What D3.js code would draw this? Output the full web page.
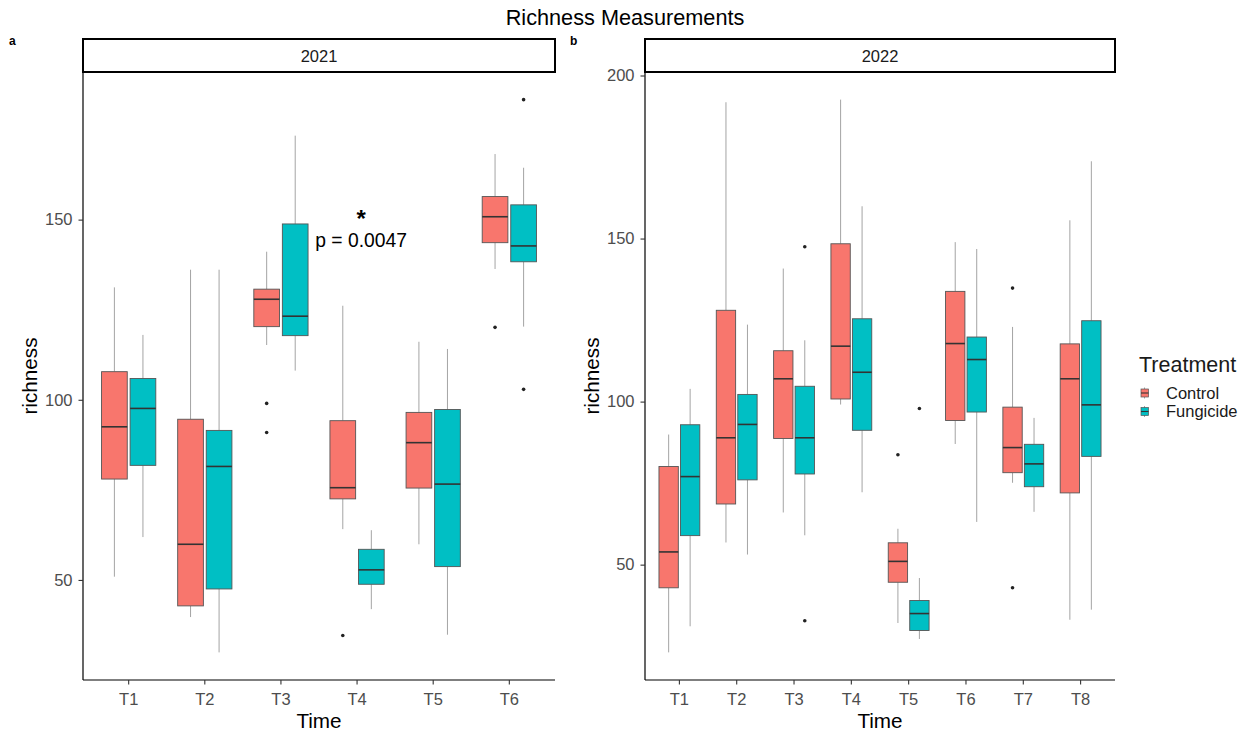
<!DOCTYPE html>
<html>
<head>
<meta charset="utf-8">
<script src="https://cdn.jsdelivr.net/npm/d3@7"></script>
<style>
  body { margin: 0; background: #fff; }
  text { font-family: "Liberation Sans", Arial, sans-serif; }
</style>
</head>
<body>
<svg id="chart" width="1249" height="736"></svg>
<script>
const treatments = ['Control', 'Fungicide']
const colors = ['#F8766D', '#00BFC4']

// 2021 -- [lower whisker, Q1, median, Q3, upper whisker]
const times2021 = ['T1', 'T2', 'T3', 'T4', 'T5', 'T6']
const control2021 = [
  [50.9, 78.0, 92.5, 107.8, 131.2],
  [39.7, 42.8, 59.9, 94.6, 136.1],
  [115.2, 120.3, 127.9, 130.7, 141.1],
  [64.1, 72.5, 75.6, 94.2, 126.1],
  [59.9, 75.5, 88.1, 96.5, 116.1],
  [136.3, 143.6, 150.8, 156.4, 168.2]
]
const fungicide2021 = [
  [61.9, 81.8, 97.6, 105.9, 118.0],
  [29.9, 47.5, 81.5, 91.5, 136.1],
  [108.1, 117.8, 123.2, 148.8, 173.3],
  [41.9, 48.8, 52.8, 58.5, 63.8],
  [34.8, 53.7, 76.6, 97.3, 114.1],
  [120.3, 138.3, 142.7, 154.1, 164.4]
]
// outliers: [time, treatment index, value]
const outliers2021 = [
  ['T3', 0, 99.0], ['T3', 0, 90.9], ['T4', 0, 34.6],
  ['T6', 0, 120.1], ['T6', 1, 183.3], ['T6', 1, 102.9]
]

// 2022
const times2022 = ['T1', 'T2', 'T3', 'T4', 'T5', 'T6', 'T7', 'T8']
const control2022 = [
  [23.1, 42.9, 53.9, 80.1, 89.9],
  [56.8, 68.6, 88.9, 128.0, 191.8],
  [66.0, 88.7, 107.0, 115.6, 140.8],
  [99.1, 100.8, 117.0, 148.4, 192.6],
  [32.1, 44.6, 51.0, 56.7, 61.0],
  [87.0, 94.2, 117.8, 133.8, 148.9],
  [75.1, 78.2, 85.9, 98.3, 122.9],
  [33.1, 72.0, 107.0, 117.7, 155.6]
]
const fungicide2022 = [
  [31.1, 58.9, 77.0, 92.9, 103.9],
  [53.1, 76.0, 93.0, 102.2, 123.6],
  [59.0, 77.8, 88.9, 104.7, 118.8],
  [72.2, 91.2, 109.0, 125.4, 159.9],
  [27.2, 29.8, 35.0, 39.0, 45.9],
  [63.1, 96.8, 112.9, 119.8, 146.8],
  [66.2, 73.9, 80.9, 86.9, 95.0],
  [36.2, 83.2, 99.0, 124.8, 173.7]
]
const outliers2022 = [
  ['T3', 1, 147.5], ['T3', 1, 32.8], ['T5', 0, 83.7], ['T5', 1, 97.9],
  ['T7', 0, 134.8], ['T7', 0, 42.9]
]

const svg = d3.select('#chart')
const plotTop = 72, plotBottom = 680

svg.append('text')
  .attr('x', 625).attr('y', 25)
  .attr('text-anchor', 'middle')
  .attr('font-size', 21.7)
  .text('Richness Measurements')

const drawPanel = ({ left, right, tag, tagX, year, times, series, outliers, yTicks }) => {
  const all = series.flat(2).concat(outliers.map(d => d[2]))
  const [lo, hi] = d3.extent(all)
  const pad = (hi - lo) * 0.05
  const y = d3.scaleLinear().domain([lo - pad, hi + pad]).range([plotBottom, plotTop])
  const x = d3.scaleBand().domain(times).range([left, right]).paddingOuter(0.1).paddingInner(0)
  const step = x.step()
  const dodge = d3.scaleBand().domain(treatments).range([step * 0.125, step * 0.875])
  const boxW = dodge.bandwidth() * 0.9

  const g = svg.append('g')

  // panel tag
  svg.append('text').attr('x', tagX).attr('y', 45)
    .attr('font-size', 12).attr('font-weight', 'bold').text(tag)

  // strip
  g.append('rect').attr('x', left).attr('y', 39).attr('width', right - left).attr('height', plotTop - 39)
    .attr('fill', '#fff').attr('stroke', '#000').attr('stroke-width', 2)
  g.append('text').attr('x', (left + right) / 2).attr('y', 62)
    .attr('text-anchor', 'middle').attr('font-size', 16.5).attr('fill', '#1a1a1a').text(year)

  // boxes
  series.forEach((stats, si) => {
    const gs = g.append('g')
    stats.forEach((s, i) => {
      const cx = x(times[i]) + dodge(treatments[si]) + dodge.bandwidth() / 2
      const [wlo, q1, med, q3, whi] = s
      gs.append('line').attr('x1', cx).attr('x2', cx).attr('y1', y(q3)).attr('y2', y(whi))
        .attr('stroke', '#333').attr('stroke-width', 0.6).attr('stroke-opacity', 0.75)
      gs.append('line').attr('x1', cx).attr('x2', cx).attr('y1', y(q1)).attr('y2', y(wlo))
        .attr('stroke', '#333').attr('stroke-width', 0.6).attr('stroke-opacity', 0.75)
      gs.append('rect').attr('x', cx - boxW / 2).attr('y', y(q3))
        .attr('width', boxW).attr('height', y(q1) - y(q3))
        .attr('fill', colors[si]).attr('stroke', '#555').attr('stroke-width', 0.9)
      gs.append('line').attr('x1', cx - boxW / 2).attr('x2', cx + boxW / 2)
        .attr('y1', y(med)).attr('y2', y(med))
        .attr('stroke', '#333').attr('stroke-width', 1.6)
    })
  })

  // outliers
  g.selectAll('circle.out').data(outliers).join('circle')
    .attr('class', 'out')
    .attr('cx', d => x(d[0]) + dodge(treatments[d[1]]) + dodge.bandwidth() / 2)
    .attr('cy', d => y(d[2]))
    .attr('r', 1.8).attr('fill', '#222')

  // axes
  const yAxis = g.append('g').attr('transform', `translate(${left},0)`)
    .call(d3.axisLeft(y).tickValues(yTicks).tickSize(4.5).tickPadding(6))
  const xAxis = g.append('g').attr('transform', `translate(0,${plotBottom})`)
    .call(d3.axisBottom(x).tickSize(4.5).tickPadding(8.5))
  ;[yAxis, xAxis].forEach(a => {
    a.select('.domain').attr('stroke', '#000').attr('stroke-width', 1.2)
    a.selectAll('.tick line').attr('stroke', '#333').attr('stroke-width', 1.1)
    a.selectAll('.tick text').attr('font-size', 16.5).attr('fill', '#4d4d4d')
      .attr('font-family', '"Liberation Sans", Arial, sans-serif')
  })
  yAxis.select('.domain').attr('d', `M0,${plotBottom}V${plotTop}`)
  xAxis.select('.domain').attr('d', `M${left},0H${right}`)

  // axis titles
  g.append('text').attr('x', (left + right) / 2).attr('y', 728)
    .attr('text-anchor', 'middle').attr('font-size', 20.7).text('Time')
  g.append('text')
    .attr('transform', `translate(${left - 46},${(plotTop + plotBottom) / 2}) rotate(-90)`)
    .attr('text-anchor', 'middle').attr('font-size', 20.7).text('richness')

  return { x, y }
}

const p1 = drawPanel({
  left: 83, right: 555, tag: 'a', tagX: 9, year: '2021', times: times2021,
  series: [control2021, fungicide2021], outliers: outliers2021, yTicks: [50, 100, 150]
})
drawPanel({
  left: 645, right: 1115, tag: 'b', tagX: 570, year: '2022', times: times2022,
  series: [control2022, fungicide2022], outliers: outliers2022, yTicks: [50, 100, 150, 200]
})

// significance annotation on 2021 T4
const annX = p1.x('T4') + p1.x.bandwidth() / 2 + 4
svg.append('text').attr('x', annX).attr('y', p1.y(148))
  .attr('text-anchor', 'middle').attr('font-size', 24).attr('font-weight', 'bold').text('*')
svg.append('text').attr('x', annX).attr('y', p1.y(142.3))
  .attr('text-anchor', 'middle').attr('font-size', 19.3).text('p = 0.0047')

// legend
const lg = svg.append('g').attr('transform', 'translate(1139,0)')
lg.append('text').attr('x', 0).attr('y', 372).attr('font-size', 21.5).attr('fill', '#1a1a1a').text('Treatment')
treatments.forEach((t, i) => {
  const ky = 389 + i * 18.5
  lg.append('line').attr('x1', 5.5).attr('x2', 5.5).attr('y1', ky - 1.5).attr('y2', ky + 9.5)
    .attr('stroke', '#333').attr('stroke-width', 0.6).attr('stroke-opacity', 0.75)
  lg.append('rect').attr('x', 2).attr('y', ky).attr('width', 7.5).attr('height', 8)
    .attr('fill', colors[i]).attr('stroke', '#555').attr('stroke-width', 0.7)
  lg.append('line').attr('x1', 2).attr('x2', 9.5).attr('y1', ky + 4).attr('y2', ky + 4)
    .attr('stroke', '#333').attr('stroke-width', 1.1)
  lg.append('text').attr('x', 27).attr('y', ky + 9.5).attr('font-size', 16.5).attr('fill', '#1a1a1a').text(t)
})
</script>
</body>
</html>
